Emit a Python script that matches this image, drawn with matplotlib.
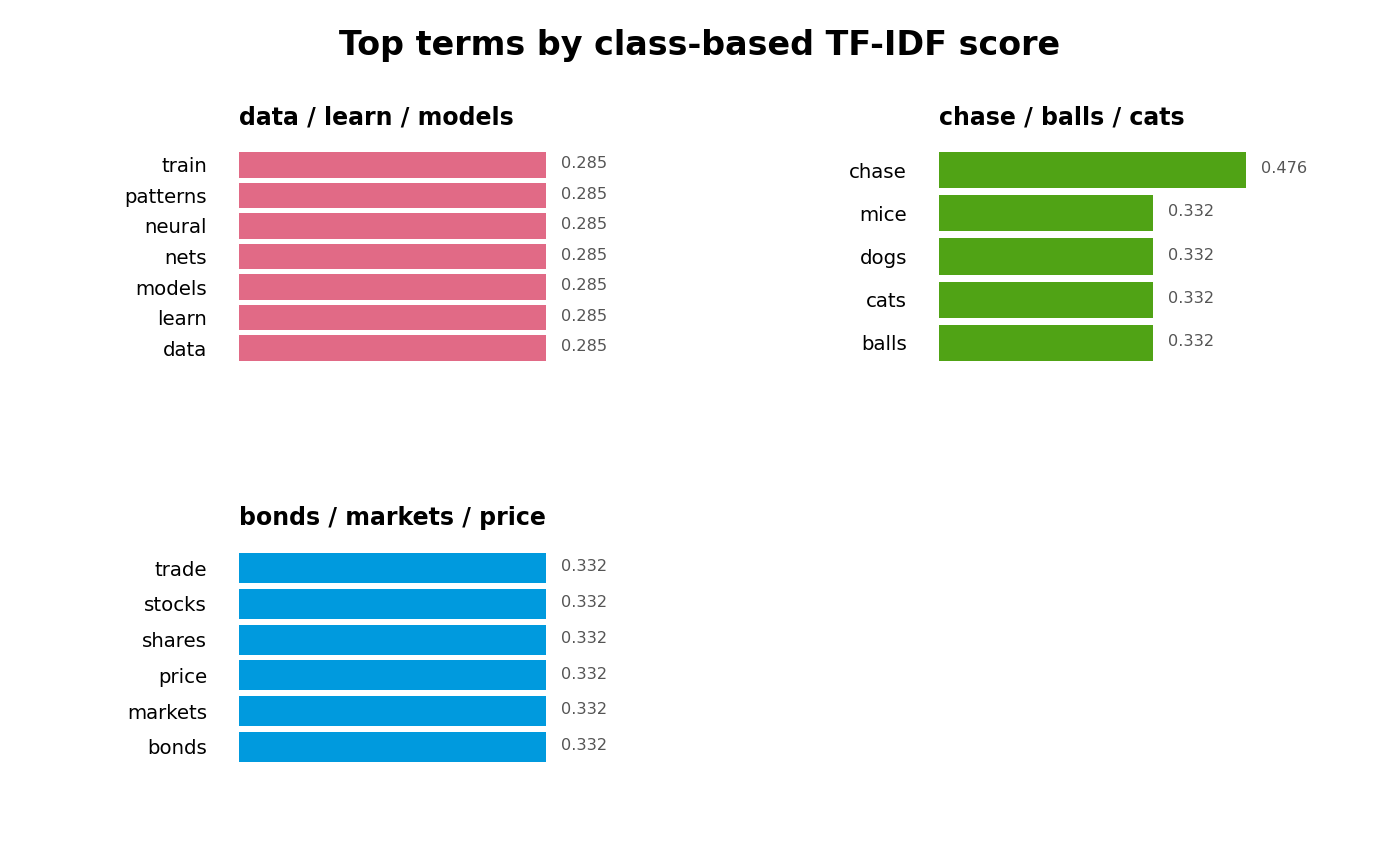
import numpy as np
import matplotlib
matplotlib.use('Agg')
from matplotlib import pyplot as plt

plt.rcParams['font.family'] = ['DejaVu Sans']

# data (top to bottom order in each panel)
titles = ['data / learn / models', 'chase / balls / cats', 'bonds / markets / price']
terms_1 = ['train', 'patterns', 'neural', 'nets', 'models', 'learn', 'data']
scores_1 = [0.285, 0.285, 0.285, 0.285, 0.285, 0.285, 0.285]
terms_2 = ['chase', 'mice', 'dogs', 'cats', 'balls']
scores_2 = [0.476, 0.332, 0.332, 0.332, 0.332]
terms_3 = ['trade', 'stocks', 'shares', 'price', 'markets', 'bonds']
scores_3 = [0.332, 0.332, 0.332, 0.332, 0.332, 0.332]
colors = ['#E16A86', '#50A315', '#009ADE']

W, H = 1400, 866
fig = plt.figure(figsize=(W / 100, H / 100), dpi=100)

# axes boxes in pixels: left, top, width, height
boxes = [(239, 152, 307, 209), (939, 152, 307, 209), (239, 553, 307, 209)]
panels = [(terms_1, scores_1), (terms_2, scores_2), (terms_3, scores_3)]

for (l, t, w, h), (terms, scores), title, col in zip(boxes, panels, titles, colors):
    ax = fig.add_axes([l / W, 1 - (t + h) / H, w / W, h / H])
    n = len(terms)
    y = np.arange(n)[::-1]
    ax.barh(y, scores, height=0.84, color=col)
    ax.set_xlim(0, max(scores))
    ax.set_ylim(-0.42, n - 1 + 0.42)
    ax.set_yticks(y)
    ax.set_yticklabels(terms, fontsize=14.2)
    ax.tick_params(axis='y', length=0, pad=23)
    ax.set_xticks([])
    for s in ax.spines.values():
        s.set_visible(False)
    for yi, v in zip(y, scores):
        ax.annotate(f'{v:.3f}', (v, yi), xytext=(11, 1), textcoords='offset points',
                    va='center', ha='left', fontsize=11.6, color='#555555',
                    annotation_clip=False)
    ax.set_title(title, loc='left', fontsize=17, fontweight='bold', pad=20)

fig.text(0.5, 1 - 46 / H, 'Top terms by class-based TF-IDF score',
         ha='center', va='center', fontsize=24, fontweight='bold')

fig.savefig('out.png', dpi=100)
